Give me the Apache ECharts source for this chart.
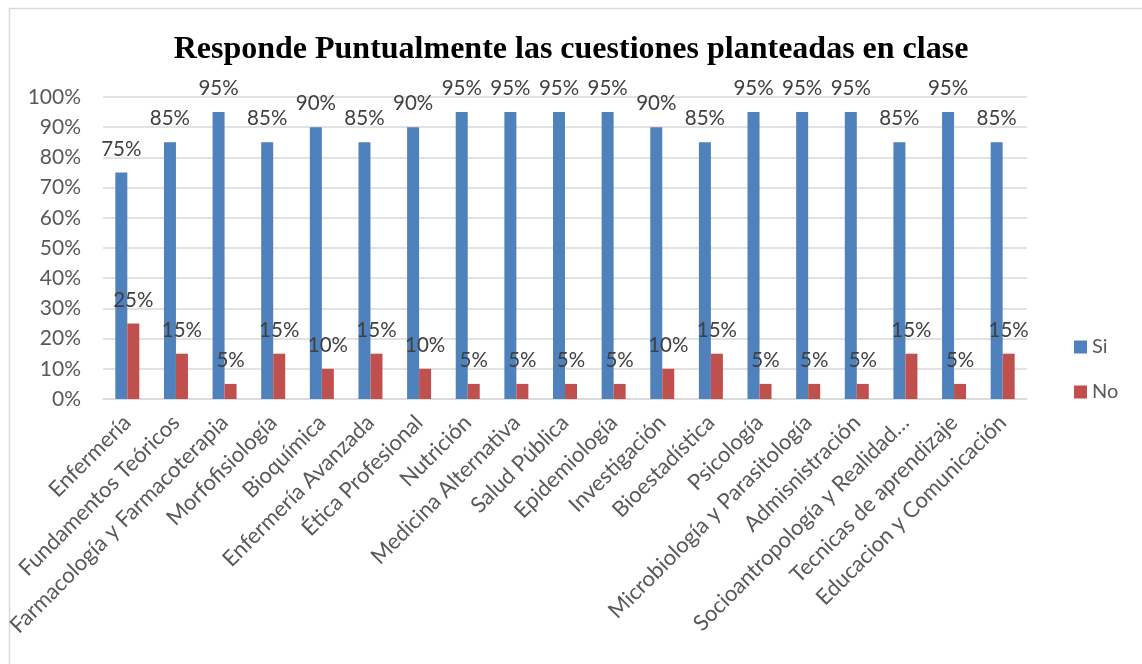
<!DOCTYPE html>
<html>
<head>
<meta charset="utf-8">
<script src="https://cdn.jsdelivr.net/npm/echarts@6/dist/echarts.min.js"></script>
<style>
html,body{margin:0;padding:0;background:#fff;}
#main{width:1142px;height:664px;}
</style>
</head>
<body>
<div id="main"></div>
<script>
const titleText = 'Responde Puntualmente las cuestiones planteadas en clase';
const categories = ['Enfermería','Fundamentos Teóricos','Farmacología y Farmacoterapia','Morfofisiología','Bioquímica','Enfermería Avanzada','Ética Profesional','Nutrición','Medicina Alternativa','Salud Pública','Epidemiología','Investigación','Bioestadística','Psicología','Microbiología y Parasitología','Admisnistración','Socioantropología y Realidad…','Tecnicas de aprendizaje','Educacion y Comunicación'];
const siValues = [75,85,95,85,90,85,90,95,95,95,95,90,85,95,95,95,85,95,85];
const noValues = [25,15,5,15,10,15,10,5,5,5,5,10,15,5,5,5,15,5,15];
const yTicks = {min:0, max:100, interval:10};

const chart = echarts.init(document.getElementById('main'));
const font = 'Lato, "Open Sans", sans-serif';
const lbl = {show:true, position:'top', distance:13, formatter:'{c}%', color:'#404040', fontSize:20.5, fontFamily:font};
chart.setOption({
  animation:false,
  backgroundColor:'#fff',
  graphic:[{type:'rect', shape:{x:9.5,y:8.5,width:1200,height:700}, style:{fill:'none', stroke:'#d9d9d9', lineWidth:1.5}, silent:true}],
  title:{text:titleText, left:'center', top:29, textStyle:{fontFamily:'"Liberation Serif","Times New Roman",serif', fontWeight:'bold', fontSize:32, color:'#000'}},
  legend:{orient:'vertical', left:1069, top:332, itemWidth:13, itemHeight:13, itemGap:25, icon:'rect',
    textStyle:{fontFamily:font, fontSize:20, color:'#595959'}, data:['Si','No']},
  grid:{left:103, right:115, top:97, bottom:265, containLabel:false},
  xAxis:{type:'category', data:categories,
    axisLine:{lineStyle:{color:'#d9d9d9', width:1.5}}, axisTick:{show:false},
    axisLabel:{rotate:45, interval:0, fontFamily:font, fontSize:22, color:'#595959', margin:20}},
  yAxis:{type:'value', min:yTicks.min, max:yTicks.max, interval:yTicks.interval,
    axisLine:{show:false}, axisTick:{show:false},
    splitLine:{lineStyle:{color:'#d9d9d9', width:1.5}},
    axisLabel:{formatter:'{value}%', fontFamily:font, fontSize:21, color:'#595959', margin:22}},
  series:[
    {name:'Si', type:'bar', data:siValues, barWidth:12, barGap:'0%', itemStyle:{color:'#4F81BD'}, label:lbl},
    {name:'No', type:'bar', data:noValues, barWidth:12, barGap:'0%', itemStyle:{color:'#C0504D'}, label:lbl}
  ]
});
</script>
</body>
</html>
